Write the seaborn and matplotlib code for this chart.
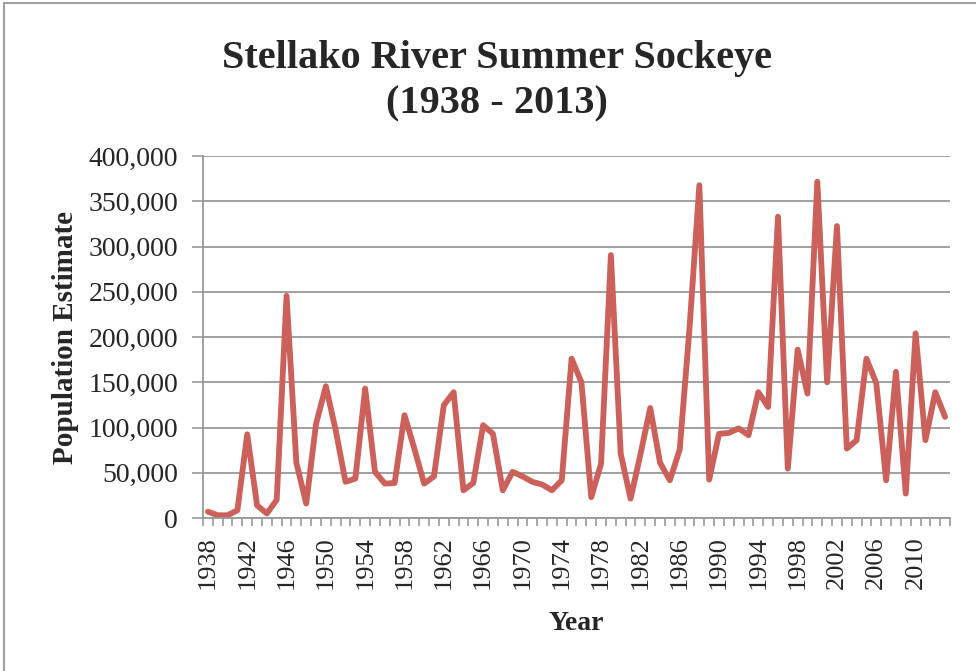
import numpy as np
import pandas as pd
import matplotlib
matplotlib.use("Agg")
import matplotlib.pyplot as plt
import seaborn as sns

years = list(range(1938, 2014))
population = [
    7000, 3000, 3000, 8500, 92500, 14000, 5000, 20000, 245500, 61000,
    16000, 104000, 145600, 97000, 40000, 43500, 143000, 51000, 38000, 38700,
    113600, 76700, 38000, 46000, 124600, 139000, 30600, 38700, 102500, 93000,
    30600, 51000, 46000, 40000, 37000, 30600, 41700, 176000, 150000, 23000,
    60000, 290500, 71000, 21400, 70000, 121600, 61000, 41700, 75600, 210000,
    367700, 42400, 93000, 94000, 99000, 91500, 139000, 122700, 333000, 54600,
    186000, 137500, 371600, 150000, 322600, 76700, 86000, 176000, 149000, 41700,
    161500, 27000, 204000, 86000, 139000, 111700,
]
label_years = list(range(1938, 2014, 4))

df = pd.DataFrame({"Year": years, "Population Estimate": population})

sns.set_style("white")
plt.rcParams['font.family'] = ['Liberation Serif', 'DejaVu Serif']

fig = plt.figure(figsize=(9.76, 6.71), dpi=100)
ax = fig.add_axes([203 / 976, 1 - 518 / 671, (950 - 203) / 976, (518 - 156) / 671])

sns.lineplot(data=df, x="Year", y="Population Estimate", ax=ax,
             color="#CB615A", linewidth=4.2, solid_joinstyle="round",
             solid_capstyle="round")

# axes, grid and ticks in the Excel style
ax.set_xlim(1937.5, 2013.5)
ax.set_ylim(0, 400000)
ax.set_yticks(np.arange(0, 400001, 50000))
ax.set_yticklabels([f"{v:,}" for v in range(0, 400001, 50000)], fontsize=20)
ax.set_xticks(label_years)
ax.set_xticklabels([str(y) for y in label_years], rotation=90, fontsize=19)
ax.set_xticks(np.arange(1937.5, 2014, 1), minor=True)
ax.tick_params(axis="x", which="major", bottom=True, length=0, pad=13)
ax.tick_params(axis="x", which="minor", bottom=True, length=6, width=1.2, color="#999999")
ax.tick_params(axis="y", which="major", left=True, length=8, width=1.2, color="#999999", pad=10)
ax.grid(axis="y", color="#999999", linewidth=1.3)
ax.set_axisbelow(True)
for side in ["top", "right"]:
    ax.spines[side].set_visible(False)
for side in ["left", "bottom"]:
    ax.spines[side].set_color("#999999")
    ax.spines[side].set_linewidth(1.3)

ax.set_xlabel("Year", fontsize=20, fontweight="bold", labelpad=16)
ax.set_ylabel("Population Estimate", fontsize=21, fontweight="bold", labelpad=7)

fig.text(497 / 976, 1 - 81 / 671, "Stellako River Summer Sockeye\n(1938 - 2013)",
         ha="center", va="center", fontsize=29, fontweight="bold", linespacing=1.28)

# chart border (only the top and left edges show in the crop)
fig.patches.append(plt.Rectangle((4 / 976, -0.1), 1.2, 1 - 3 / 671 + 0.1,
                                 transform=fig.transFigure, fill=False,
                                 edgecolor="#A0A0A0", linewidth=1.5))

fig.savefig("out.png", dpi=100)
